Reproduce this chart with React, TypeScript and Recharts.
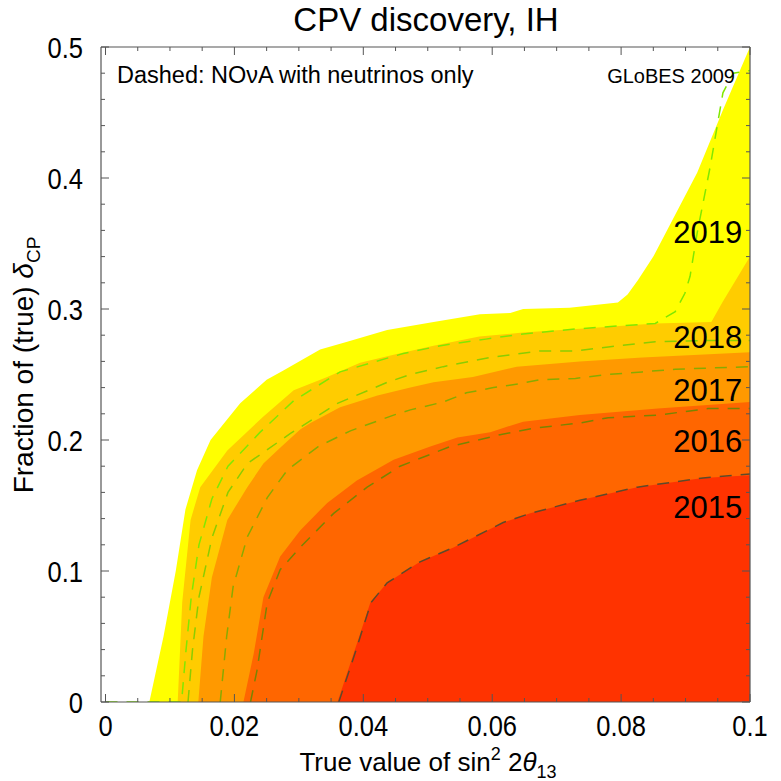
import React from 'react';
import { ComposedChart, Area, Line, XAxis, YAxis, ReferenceDot } from 'recharts';

// filled regions: [sin^2 2theta13, fraction of deltaCP]
const area2019: [number, number][] = [
  [0.0068, 0], [0.009, 0.05], [0.0109, 0.1], [0.0124, 0.147], [0.0142, 0.177], [0.0163, 0.2],
  [0.0209, 0.228], [0.025, 0.246], [0.0276, 0.253], [0.0333, 0.269], [0.0375, 0.275], [0.0437, 0.284],
  [0.0509, 0.29], [0.0581, 0.296], [0.0628, 0.297], [0.0648, 0.3], [0.072, 0.301], [0.0795, 0.305],
  [0.081, 0.311], [0.0826, 0.322], [0.085, 0.34], [0.0918, 0.404], [0.0958, 0.452], [0.1, 0.5],
];
const area2018: [number, number][] = [
  [0.0112, 0], [0.0119, 0.076], [0.0132, 0.139], [0.0147, 0.164], [0.0189, 0.192], [0.0245, 0.218],
  [0.0292, 0.238], [0.0344, 0.248], [0.0395, 0.259], [0.0447, 0.265], [0.0509, 0.272], [0.058, 0.279],
  [0.0648, 0.282], [0.0736, 0.285], [0.0853, 0.289], [0.094, 0.29], [0.0957, 0.305], [0.1, 0.34],
];
const area2017: [number, number][] = [
  [0.0144, 0], [0.0152, 0.05], [0.0165, 0.095], [0.0189, 0.139], [0.022, 0.164], [0.0245, 0.182],
  [0.0271, 0.194], [0.0302, 0.208], [0.0318, 0.213], [0.0364, 0.225], [0.0422, 0.234], [0.0473, 0.24],
  [0.0509, 0.244], [0.057, 0.248], [0.0638, 0.256], [0.0736, 0.26], [0.0833, 0.263], [0.1, 0.267],
];
const area2016: [number, number][] = [
  [0.0214, 0], [0.023, 0.037], [0.0245, 0.08], [0.0271, 0.111], [0.0302, 0.131], [0.0344, 0.152],
  [0.039, 0.169], [0.0447, 0.185], [0.0504, 0.195], [0.0546, 0.202], [0.0597, 0.206], [0.0648, 0.214],
  [0.0736, 0.219], [0.0857, 0.224], [0.1, 0.229],
];
const area2015: [number, number][] = [
  [0.036, 0], [0.0385, 0.037], [0.0411, 0.076], [0.0437, 0.091], [0.0488, 0.107], [0.054, 0.118],
  [0.0617, 0.137], [0.0659, 0.144], [0.0736, 0.154], [0.0825, 0.164], [0.0927, 0.171], [0.1, 0.173],
];

// dashed: neutrinos only
const dash2019: [number, number][] = [
  [0, 0], [0.0118, 0], [0.0125, 0.04], [0.0133, 0.08], [0.0145, 0.12], [0.0165, 0.155], [0.019, 0.18],
  [0.024, 0.206], [0.0292, 0.23], [0.0364, 0.252], [0.0462, 0.266], [0.052, 0.272], [0.059, 0.277],
  [0.0648, 0.281], [0.0736, 0.285], [0.0853, 0.289], [0.0884, 0.298], [0.0899, 0.312], [0.0907, 0.325],
  [0.0918, 0.358], [0.0938, 0.408], [0.0958, 0.465], [0.0974, 0.48], [0.1, 0.482],
];
const dash2018: [number, number][] = [
  [0.0128, 0], [0.0135, 0.04], [0.0145, 0.08], [0.0165, 0.125], [0.019, 0.16], [0.022, 0.182],
  [0.0287, 0.205], [0.036, 0.228], [0.0437, 0.244], [0.0473, 0.25], [0.0524, 0.256], [0.0597, 0.263],
  [0.0674, 0.268], [0.0729, 0.268], [0.078, 0.271], [0.0853, 0.275], [0.0935, 0.276], [0.1, 0.276],
];
const dash2017: [number, number][] = [
  [0.0178, 0], [0.0188, 0.05], [0.0198, 0.088], [0.022, 0.126], [0.0251, 0.156], [0.0282, 0.177],
  [0.033, 0.195], [0.038, 0.207], [0.0447, 0.219], [0.0473, 0.223], [0.0524, 0.229], [0.056, 0.236],
  [0.0602, 0.24], [0.0643, 0.243], [0.0674, 0.246], [0.0729, 0.247], [0.078, 0.25], [0.0833, 0.252],
  [0.0884, 0.254], [0.1, 0.256],
];
const dash2016: [number, number][] = [
  [0.0225, 0], [0.0235, 0.024], [0.0251, 0.076], [0.0271, 0.101], [0.0302, 0.118], [0.0354, 0.144],
  [0.0406, 0.164], [0.0457, 0.18], [0.0535, 0.195], [0.0612, 0.204], [0.0664, 0.209], [0.0736, 0.213],
  [0.078, 0.217], [0.0857, 0.219], [0.0935, 0.224], [0.1, 0.224],
];
const dash2015: [number, number][] = [
  [0.0362, 0], [0.0387, 0.037], [0.0412, 0.076], [0.0437, 0.091], [0.0488, 0.107], [0.054, 0.118],
  [0.0617, 0.137], [0.0659, 0.144], [0.0736, 0.154], [0.0825, 0.164], [0.0927, 0.171], [0.1, 0.174],
];

const years = ['2019', '2018', '2017', '2016', '2015'];
const yearLabelY = [0.359, 0.279, 0.2385, 0.199, 0.1485];
const majorX = [0, 0.02, 0.04, 0.06, 0.08, 0.1];
const majorY = [0, 0.1, 0.2, 0.3, 0.4, 0.5];

const areaColors = ['#FFFF00', '#FFCC00', '#FF9900', '#FF6600', '#FF3300'];
const dashColors = ['#80E800', '#8ACD00', '#88AA00', '#7A8400', '#5E4A2A'];

const areas = [area2019, area2018, area2017, area2016, area2015];
const dashes = [dash2019, dash2018, dash2017, dash2016, dash2015];

// merge everything into one table keyed by x
const rowMap = new Map<number, any>();
const addSeries = (key: string, pts: [number, number][]) => {
  pts.forEach(([x, y]) => {
    if (!rowMap.has(x)) rowMap.set(x, { x });
    rowMap.get(x)[key] = y;
  });
};
areas.forEach((pts, i) => addSeries('a' + years[i], pts));
dashes.forEach((pts, i) => addSeries('d' + years[i], pts));
const data = Array.from(rowMap.values()).sort((a, b) => a.x - b.x);

const xTicks = Array.from({ length: 21 }, (_, i) => +(i * 0.005).toFixed(3));
const yTicks = Array.from({ length: 26 }, (_, i) => +(i * 0.02).toFixed(2));
const isMajor = (v: number, list: number[]) => list.some((m) => Math.abs(m - v) < 1e-9);

const FONT = '"Liberation Sans", Arial, Helvetica, sans-serif';
const FRAME = '#555';

const XTickBottom = (props: any) => {
  const { x, y, payload } = props;
  const major = isMajor(payload.value, majorX);
  return (
    <g>
      <line x1={x} x2={x} y1={y} y2={y - (major ? 8 : 4)} stroke={FRAME} />
      {major && (
        <text transform={`translate(${x},${y + 34}) scale(0.85,1)`} textAnchor="middle" fontSize={30} fontFamily={FONT} fill="#000">
          {String(payload.value)}
        </text>
      )}
    </g>
  );
};

const XTickTop = (props: any) => {
  const { x, y, payload } = props;
  const major = isMajor(payload.value, majorX);
  return <line x1={x} x2={x} y1={y} y2={y + (major ? 8 : 4)} stroke={FRAME} />;
};

const YTickLeft = (props: any) => {
  const { x, y, payload } = props;
  const major = isMajor(payload.value, majorY);
  return (
    <g>
      <line x1={x} x2={x + (major ? 8 : 4)} y1={y} y2={y} stroke={FRAME} />
      {major && (
        <text transform={`translate(${x - 18},${y + 10.5}) scale(0.85,1)`} textAnchor="end" fontSize={30} fontFamily={FONT} fill="#000">
          {String(payload.value)}
        </text>
      )}
    </g>
  );
};

const YTickRight = (props: any) => {
  const { x, y, payload } = props;
  const major = isMajor(payload.value, majorY);
  return <line x1={x} x2={x - (major ? 8 : 4)} y1={y} y2={y} stroke={FRAME} />;
};

const App: React.FC = () => {
  return (
    <div style={{ position: 'absolute', left: 0, top: 0, width: 781, height: 781, background: '#fff' }}>
      <ComposedChart width={781} height={781} data={data} margin={{ top: 46, right: 30, bottom: 78, left: 100 }}>
        {areas.map((_, i) => (
          <Area
            key={'a' + i}
            type="linear"
            dataKey={'a' + years[i]}
            stroke="none"
            fill={areaColors[i]}
            fillOpacity={1}
            connectNulls
            isAnimationActive={false}
          />
        ))}
        {dashes.map((_, i) => (
          <Line
            key={'d' + i}
            type="linear"
            dataKey={'d' + years[i]}
            stroke={dashColors[i]}
            strokeWidth={1.5}
            strokeDasharray="12 9"
            dot={false}
            connectNulls
            isAnimationActive={false}
          />
        ))}
        {years.map((yr, i) => (
          <ReferenceDot
            key={yr}
            x={0.0988}
            y={yearLabelY[i]}
            r={0}
            fill="none"
            stroke="none"
            ifOverflow="visible"
            label={{ value: yr, position: 'left', offset: 0, fontSize: 31, fill: '#000', fontFamily: FONT }}
          />
        ))}
        <XAxis
          dataKey="x"
          type="number"
          domain={[-0.0007, 0.1]}
          allowDataOverflow
          ticks={xTicks}
          interval={0}
          height={1}
          tickSize={0}
          tickMargin={0}
          tickLine={false}
          axisLine={{ stroke: FRAME, strokeWidth: 1.2 }}
          tick={<XTickBottom />}
        />
        <XAxis
          xAxisId="top"
          orientation="top"
          dataKey="x"
          type="number"
          domain={[-0.0007, 0.1]}
          allowDataOverflow
          ticks={xTicks}
          interval={0}
          height={1}
          tickSize={0}
          tickMargin={0}
          tickLine={false}
          axisLine={{ stroke: FRAME, strokeWidth: 1.2 }}
          tick={<XTickTop />}
        />
        <YAxis
          type="number"
          domain={[0, 0.5]}
          allowDataOverflow
          ticks={yTicks}
          interval={0}
          width={1}
          tickSize={0}
          tickMargin={0}
          tickLine={false}
          axisLine={{ stroke: FRAME, strokeWidth: 1.2 }}
          tick={<YTickLeft />}
        />
        <YAxis
          yAxisId="right"
          orientation="right"
          type="number"
          domain={[0, 0.5]}
          allowDataOverflow
          ticks={yTicks}
          interval={0}
          width={1}
          tickSize={0}
          tickMargin={0}
          tickLine={false}
          axisLine={{ stroke: FRAME, strokeWidth: 1.2 }}
          tick={<YTickRight />}
        />
      </ComposedChart>
      <svg width={781} height={781} style={{ position: 'absolute', left: 0, top: 0, pointerEvents: 'none' }}>
        <text x={426} y={31} textAnchor="middle" fontSize={33} fontFamily={FONT} fill="#000">
          CPV discovery, IH
        </text>
        <text x={117} y={83} fontSize={23.5} fontFamily={FONT} fill="#000">
          Dashed: NOνA with neutrinos only
        </text>
        <text x={735} y={83} textAnchor="end" fontSize={20} fontFamily={FONT} fill="#000">
          GLoBES 2009
        </text>
        <text x={428} y={771} textAnchor="middle" fontSize={26} fontFamily={FONT} fill="#000">
          <tspan>True value of sin</tspan>
          <tspan dy={-11} fontSize={18}>2</tspan>
          <tspan dy={11}> 2</tspan>
          <tspan fontStyle="italic">θ</tspan>
          <tspan dy={7} fontSize={18}>13</tspan>
        </text>
        <text
          transform="translate(33,365) rotate(-90)"
          x={0}
          y={0}
          textAnchor="middle"
          fontSize={28}
          fontFamily={FONT}
          fill="#000"
        >
          <tspan>Fraction of (true) </tspan>
          <tspan fontStyle="italic">δ</tspan>
          <tspan dy={7} fontSize={19}>CP</tspan>
        </text>
      </svg>
    </div>
  );
};

export default App;
